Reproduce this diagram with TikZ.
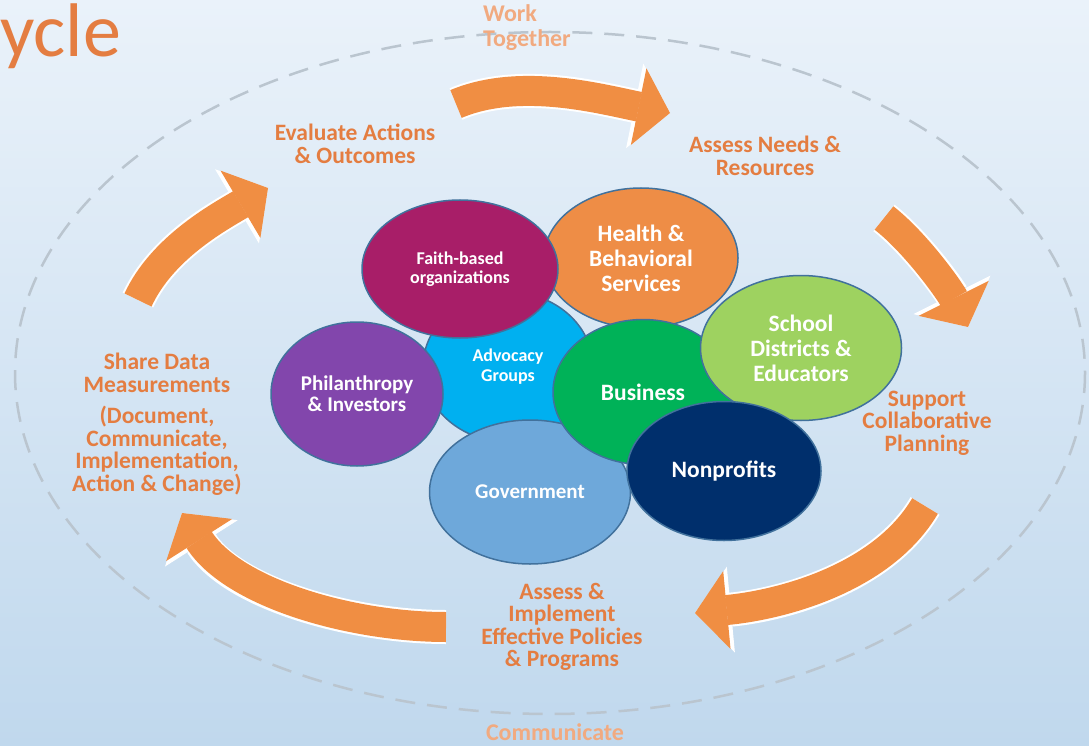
\documentclass[tikz,border=0pt]{standalone}
\usepackage{fontspec}
\setmainfont{Carlito}
\usetikzlibrary{shapes.geometric,arrows.meta}

\definecolor{bgtop}{RGB}{234,242,250}
\definecolor{bgbottom}{RGB}{192,216,237}
\definecolor{steporange}{RGB}{228,125,65}
\definecolor{faintorange}{RGB}{241,170,128}
\definecolor{arroworange}{RGB}{240,142,67}
\definecolor{dashgray}{RGB}{186,197,207}
\definecolor{rimblue}{RGB}{65,113,156}
\definecolor{faithcol}{RGB}{168,30,104}
\definecolor{healthcol}{RGB}{238,141,70}
\definecolor{advocol}{RGB}{0,176,240}
\definecolor{philcol}{RGB}{130,70,172}
\definecolor{buscol}{RGB}{0,178,88}
\definecolor{schoolcol}{RGB}{158,210,96}
\definecolor{govcol}{RGB}{110,168,218}
\definecolor{npcol}{RGB}{0,47,108}

\begin{document}
\begin{tikzpicture}[x=1pt,y=-1pt]
\tikzstyle{every node}+=[inner sep=0pt, align=center]
\tikzstyle{group}=[ellipse, draw=rimblue, line width=1.5pt, text=white]
\tikzstyle{steplabel}=[text=steporange, font=\bfseries\fontsize{23.5}{22.5}\selectfont]
\tikzstyle{faintlabel}=[text=faintorange, font=\bfseries\fontsize{24}{25}\selectfont]
\tikzstyle{cyclearrow}=[arroworange, line width=30pt,
  -{Triangle[length=32pt,width=78pt,line width=1pt]},
  preaction={draw=white, line width=34pt, -{Triangle[length=36pt,width=86pt,line width=1pt]}}]
\useasboundingbox (0,0) rectangle (1089,746);
\shade [top color=bgtop, bottom color=bgbottom] (0,0) rectangle (1089,746);
% title, cut at the left edge
\node [anchor=base west, text=steporange, font=\fontsize{76}{76}\selectfont] (title) at (0,57) {ycle};
% dashed ring
\draw [dashgray, line width=2.5pt, dash pattern=on 20pt off 12pt] (550,373) ellipse (535 and 341);
\node [faintlabel, anchor=west, align=left] (work) at (483,28) {Work\\Together};
\node [faintlabel] (communicate) at (555,732) {Communicate};
% cycle arrows
\coordinate (a1s) at (456,104);
\coordinate (a1e) at (670,113);
\coordinate (a2s) at (884,218);
\coordinate (a2e) at (968,327);
\coordinate (a3s) at (925,506);
\coordinate (a3e) at (695,613);
\coordinate (a4s) at (446,627);
\coordinate (a4e) at (182,513);
\coordinate (a5s) at (138,300);
\coordinate (a5e) at (268,188);
\draw [cyclearrow] (a1s) .. controls (520,77) and (601,99) .. (a1e);
\draw [cyclearrow] (a2s) .. controls (916,243) and (950,291) .. (a2e);
\draw [cyclearrow] (a3s) .. controls (882,579) and (780,605) .. (a3e);
\draw [cyclearrow] (a4s) .. controls (351,627) and (233,593) .. (a4e);
\draw [cyclearrow] (a5s) .. controls (162,248) and (219,217) .. (a5e);
% step labels
\node [steplabel] (evaluate) at (355,144) {Evaluate Actions\\\& Outcomes};
\node [steplabel] (assessneeds) at (765,156) {Assess Needs \&\\Resources};
\node [steplabel] (support) at (927,423) {Support\\Collaborative\\Planning};
\node [steplabel] (implement) at (562,627) {Assess \&\\Implement\\Effective Policies\\\& Programs};
\node [steplabel] (share) at (157,424) {Share Data\\Measurements\\[9pt](Document,\\Communicate,\\Implementation,\\Action \& Change)};
% partner groups
\node [group, fill=advocol, minimum width=170pt, minimum height=150pt,
  font=\bfseries\fontsize{18}{20}\selectfont] (advocacy) at (508,367) {Advocacy\\Groups};
\node [group, fill=healthcol, minimum width=194pt, minimum height=140pt,
  font=\bfseries\fontsize{23.5}{25}\selectfont] (health) at (641,258) {Health \&\\Behavioral\\Services};
\node [group, fill=faithcol, minimum width=196pt, minimum height=138pt,
  font=\bfseries\fontsize{18}{19}\selectfont] (faith) at (460,269) {Faith-based\\organizations};
\node [group, fill=philcol, minimum width=172pt, minimum height=144pt,
  font=\bfseries\fontsize{21}{21}\selectfont] (philanthropy) at (357,394) {Philanthropy\\\& Investors};
\node [group, fill=govcol, minimum width=201pt, minimum height=144pt,
  font=\bfseries\fontsize{21}{21}\selectfont] (government) at (530,492) {Government};
\node [group, fill=buscol, minimum width=180pt, minimum height=145pt,
  font=\bfseries\fontsize{23.5}{25}\selectfont] (business) at (643,392) {Business};
\node [group, fill=schoolcol, minimum width=201pt, minimum height=145pt,
  font=\bfseries\fontsize{23.5}{25}\selectfont] (school) at (801,348) {School\\Districts \&\\Educators};
\node [group, fill=npcol, minimum width=194pt, minimum height=139pt,
  font=\bfseries\fontsize{23.5}{25}\selectfont] (nonprofits) at (724,471) {Nonprofits};
\end{tikzpicture}
\end{document}
